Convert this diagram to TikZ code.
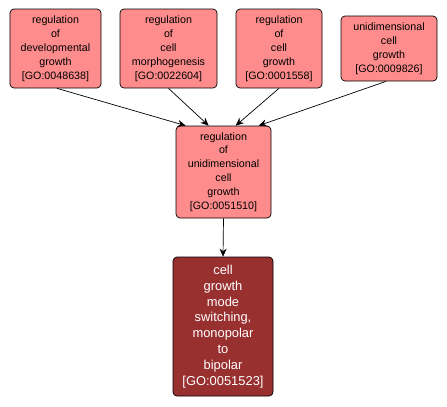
\documentclass[tikz,border=0pt]{standalone}
\usepackage{fontspec}
\setmainfont{Liberation Sans}
\usetikzlibrary{arrows.meta,calc}
\definecolor{lightgo}{RGB}{255,140,140}
\definecolor{darkgo}{RGB}{153,48,48}
\begin{document}
\begin{tikzpicture}[x=1bp,y=-1bp,
  gobox/.style={draw=black, line width=0.7bp, rounded corners=4bp, fill=lightgo, inner sep=0pt, align=center, font=\fontsize{10.7bp}{13.9bp}\selectfont},
  darkbox/.style={gobox, fill=darkgo, text=white, font=\fontsize{12.9bp}{15.8bp}\selectfont},
  edge/.style={draw=black, line width=0.7bp, -{Stealth[length=8bp,width=7bp]}}]
\useasboundingbox (0,0) rectangle (447,406);
\node[gobox, minimum width=91bp, minimum height=79bp] (a) at (55.5,48.5) {regulation\\of\\developmental\\growth\\{[}GO:0048638{]}};
\node[gobox, minimum width=97bp, minimum height=79bp] (b) at (168.5,48.5) {regulation\\of\\cell\\morphogenesis\\{[}GO:0022604{]}};
\node[gobox, minimum width=86bp, minimum height=79bp] (c) at (279,48.5) {regulation\\of\\cell\\growth\\{[}GO:0001558{]}};
\node[gobox, minimum width=96bp, minimum height=65bp] (d) at (389,48.5) {unidimensional\\cell\\growth\\{[}GO:0009826{]}};
\node[gobox, minimum width=95bp, minimum height=92bp] (m) at (223.5,172) {regulation\\of\\unidimensional\\cell\\growth\\{[}GO:0051510{]}};
\node[darkbox, minimum width=100bp, minimum height=139bp] (e) at (223,326.5) {cell\\growth\\mode\\switching,\\monopolar\\to\\bipolar\\{[}GO:0051523{]}};
\draw[edge] ($(a.south)+(1.5,0)$) -- ($(m.north west)+(10,0)$);
\draw[edge] (b.south) -- ($(m.north west)+(33,0)$);
\draw[edge] (c.south) -- ($(m.north west)+(60,0)$);
\draw[edge] ($(d.south)+(-3,0)$) -- ($(m.north west)+(83,0)$);
\draw[edge] (m.south) -- (e.north);
\end{tikzpicture}
\end{document}
